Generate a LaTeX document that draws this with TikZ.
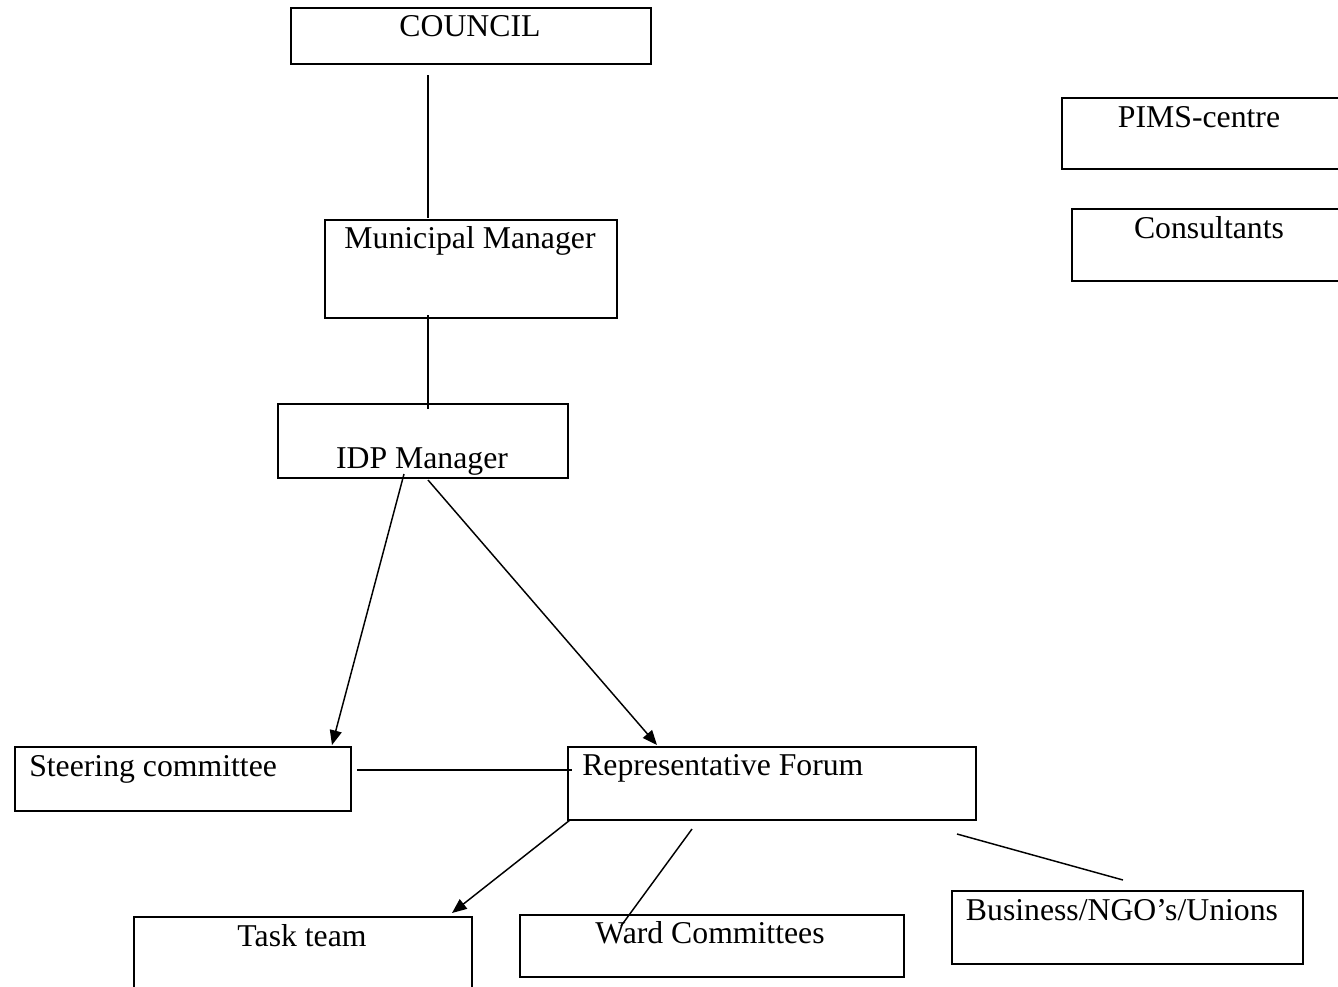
\documentclass[tikz,border=0pt]{standalone}
\usepackage{fontspec}
\setmainfont{Liberation Serif}
\usetikzlibrary{arrows.meta,calc}
\begin{document}
\begin{tikzpicture}[x=0.75pt,y=-0.75pt,
  box/.style={draw, line width=1.5pt, anchor=north west, inner sep=0pt},
  txt/.style={inner sep=0pt, anchor=base, font=\fontsize{23.8}{28}\selectfont},
  txtl/.style={txt, anchor=base west},
  conn/.style={line width=1.1pt},
  arr/.style={conn, -{Triangle[length=11pt,width=9pt]}}]
\useasboundingbox (0,0) rectangle (1338,986);
\clip (0,0) rectangle (1338,986);
% boxes
\node[box, minimum width=270pt, minimum height=42pt] (council) at (290,7) {};
\node[box, minimum width=219pt, minimum height=73.5pt] (mm) at (324,219) {};
\node[box, minimum width=217.5pt, minimum height=55.5pt] (idp) at (277,403) {};
\node[box, minimum width=225pt, minimum height=53.25pt] (pims) at (1061,97) {};
\node[box, minimum width=217.5pt, minimum height=54pt] (cons) at (1071,208) {};
\node[box, minimum width=252pt, minimum height=48pt] (steer) at (14,746) {};
\node[box, minimum width=306pt, minimum height=54.75pt] (rep) at (567,746) {};
\node[box, minimum width=253.5pt, minimum height=75pt] (task) at (133,916) {};
\node[box, minimum width=288pt, minimum height=46.5pt] (ward) at (519,914) {};
\node[box, minimum width=263.25pt, minimum height=54.75pt] (bus) at (951,890) {};
% texts
\node[txt] (councilT) at (470,36) {COUNCIL};
\node[txt] (mmT) at (470,248) {Municipal Manager};
\node[txt] (idpT) at (422,468) {IDP Manager};
\node[txt] (pimsT) at (1199,127) {PIMS-centre};
\node[txt] (consT) at (1209,238) {Consultants};
\node[txtl] (steerT) at (29,776) {Steering committee};
\node[txtl] (repT) at (582,775) {Representative Forum};
\node[txt] (taskT) at (302,946) {Task team};
\node[txt] (wardT) at (710,943) {Ward Committees};
\node[txt] (busT) at (1122,920) {Business/NGO’s/Unions};
% connectors
\draw[conn] ($(council.south west)+(138,10)$) -- ($(mm.north west)+(104,-1)$);
\draw[conn] ($(mm.south west)+(104,-4)$) -- ($(idp.north west)+(151,6)$);
\draw[arr] ($(idp.south west)+(127,-5)$) -- ($(steer.north west)+(318,-1)$);
\draw[arr] ($(idp.south west)+(151,1)$) -- ($(rep.north west)+(90,-1)$);
\draw[conn] ($(steer.north east)+(5,24)$) -- ($(rep.north west)+(5,24)$);
\draw[arr] ($(rep.south west)+(3,-1)$) -- ($(task.north west)+(319,-3)$);
\draw[conn] ($(rep.south west)+(125,8)$) -- ($(ward.north west)+(102,12)$);
\draw[conn] ($(rep.south east)+(-20,13)$) -- ($(bus.north west)+(172,-10)$);
\end{tikzpicture}
\end{document}
